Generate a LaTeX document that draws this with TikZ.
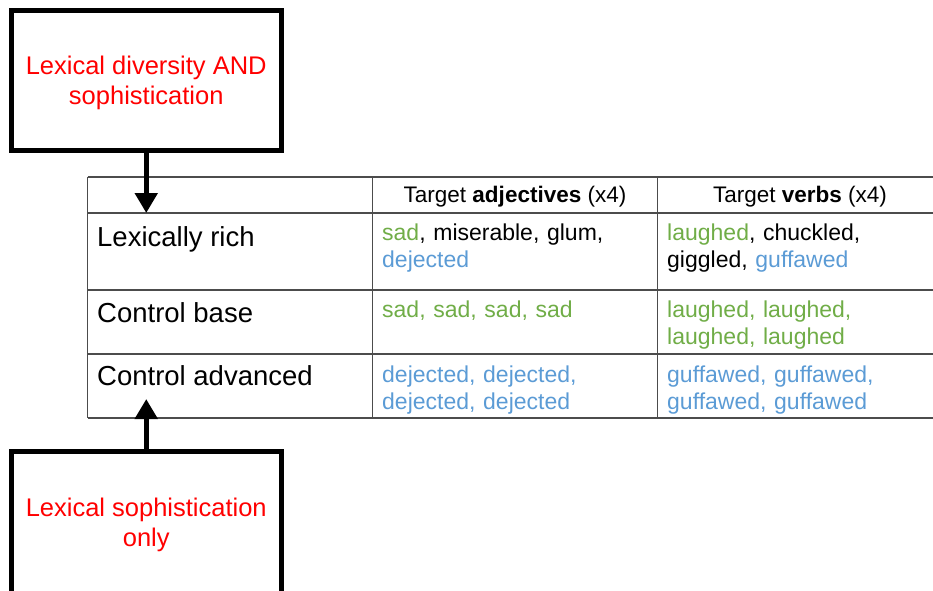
\documentclass[tikz,border=0pt]{standalone}
\usepackage{fontspec}
\setmainfont{Liberation Sans}
\usetikzlibrary{arrows.meta}

\definecolor{wordgreen}{RGB}{112,173,71}
\definecolor{wordblue}{RGB}{91,155,213}

\begin{document}
\begin{tikzpicture}[x=1pt,y=-1pt]

    \def\xtl{87.5}
    \def\xta{372.7}
    \def\xtv{657.7}
    \def\xtr{933}
    \def\xarrow{146.25}

    % Styles
    \tikzstyle{redbox}=[draw,line width=5pt,minimum width=269.5pt,minimum height=139.5pt,
        text=red,align=center,text depth=0pt,font=\fontsize{25.5}{30}\selectfont]
    \tikzstyle{grid}=[black!70,line width=1.2pt]
    \tikzstyle{bigarrow}=[line width=5.5pt,-{Triangle[width=22pt,length=20pt]}]
    \tikzstyle{rowlabel}=[anchor=base west,inner sep=0pt,font=\fontsize{27.5}{33}\selectfont]
    \tikzstyle{head}=[anchor=base,inner sep=0pt,font=\fontsize{22.5}{27}\selectfont]
    \tikzstyle{cell}=[anchor=base west,inner sep=0pt,align=left,text width=270pt,
        font=\fontsize{23}{27}\selectfont]

    \useasboundingbox (0,0) rectangle (933,590);

    % table rules
    \begin{scope}[style=grid]
    \foreach \y in {177,213,290,354,418}
        \draw (\xtl,\y) -- (\xtr,\y);
    \foreach \x in {\xtl,\xta,\xtv}
        \draw (\x,177) -- (\x,418);
    \end{scope}

    % header
    \node[head] (hadj) at (515,202) {Target \textbf{adjectives} (x4)};
    \node[head] (hverb) at (800,202) {Target \textbf{verbs} (x4)};

    % row labels
    \node[rowlabel] (rich) at (97,246) {Lexically rich};
    \node[rowlabel] (base) at (97,322) {Control base};
    \node[rowlabel] (adv) at (97,385) {Control advanced};

    % adjectives
    \node[cell] (adjrich) at (382,240) {\textcolor{wordgreen}{sad}, miserable, glum,\\
        \textcolor{wordblue}{dejected}};
    \node[cell,text=wordgreen] (adjbase) at (382,317) {sad, sad, sad, sad};
    \node[cell,text=wordblue] (adjadv) at (382,382) {dejected, dejected,\\dejected, dejected};

    % verbs
    \node[cell] (verbrich) at (667,240) {\textcolor{wordgreen}{laughed}, chuckled,\\
        giggled, \textcolor{wordblue}{guffawed}};
    \node[cell,text=wordgreen] (verbbase) at (667,317) {laughed, laughed,\\laughed, laughed};
    \node[cell,text=wordblue] (verbadv) at (667,382) {guffawed, guffawed,\\guffawed, guffawed};

    % top box
    \node[redbox] (both) at (\xarrow,80.25) {Lexical diversity AND\\sophistication};
    \coordinate (richtip) at (\xarrow,213);
    \draw[bigarrow] (both.south) -- (richtip);

    % bottom box
    \node[redbox,minimum height=142pt] (soph) at (\xarrow,522) {Lexical sophistication\\only};
    \coordinate (advtip) at (\xarrow,399);
    \draw[bigarrow] (soph.north) -- (advtip);

\end{tikzpicture}
\end{document}
